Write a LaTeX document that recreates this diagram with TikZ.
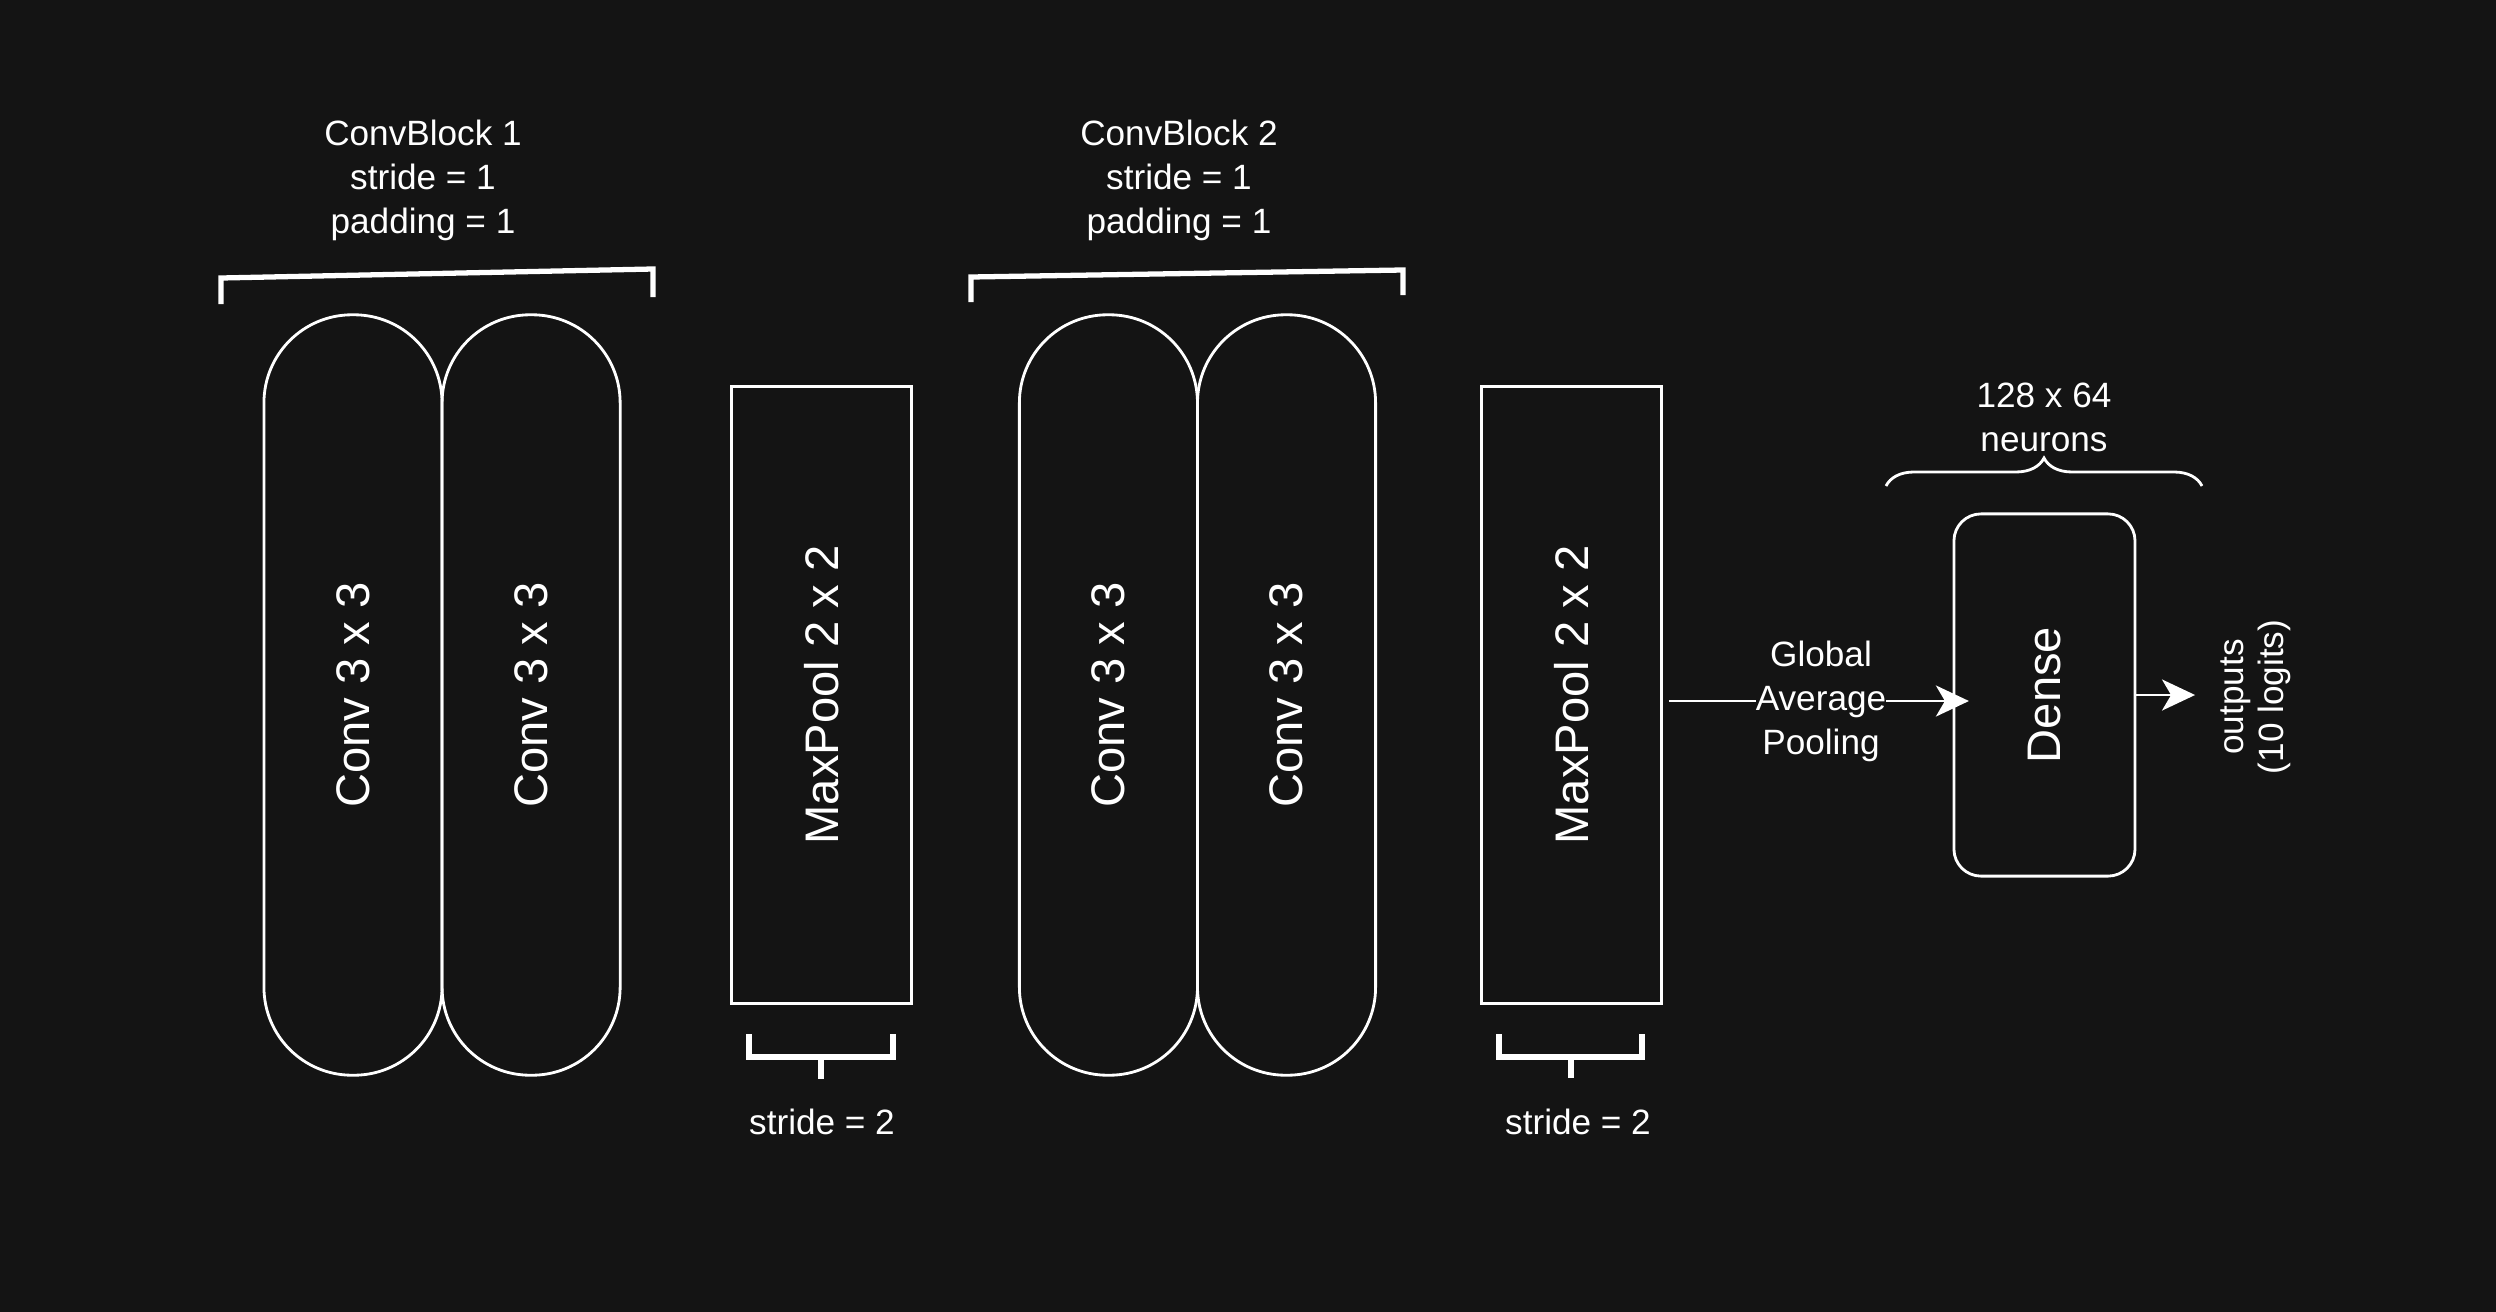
\documentclass[tikz,border=0pt]{standalone}
\usepackage{fontspec}
\setmainfont{Liberation Sans}
\usetikzlibrary{positioning,arrows.meta,decorations.pathreplacing}
\definecolor{bg}{HTML}{141414}

\begin{document}
\begin{tikzpicture}[x=0.01cm, y=-0.01cm, white, line width=0.8pt,
        conv/.style = {draw, rounded corners=0.88cm, minimum width=1.78cm, minimum height=7.6cm, outer sep=0pt, inner sep=0pt, font=\fontsize{13.4}{16}\selectfont},
        pool/.style = {draw, minimum width=1.8cm, minimum height=6.17cm, outer sep=0pt, font=\fontsize{13.4}{16}\selectfont},
        dense/.style = {draw, rounded corners=0.27cm, minimum width=1.81cm, minimum height=3.62cm, outer sep=0pt, font=\fontsize{13.4}{16}\selectfont},
        note/.style = {align=center, font=\fontsize{10}{12.5}\selectfont},
        bracket/.style = {line width=1.5pt},
        arr/.style = {-{Stealth[length=3.3mm, width=3.1mm, inset=0.9mm]}}]
    \fill[bg] (0,0) rectangle (2496,1312);

    % layers
    \node[conv] (c1) at (353,695) {\rotatebox{90}{Conv 3 x 3}};
    \node[conv] (c2) [right=0pt of c1] {\rotatebox{90}{Conv 3 x 3}};
    \node[pool] (mp1) [right=1.11cm of c2] {\rotatebox{90}{MaxPool 2 x 2}};
    \node[conv] (c3) [right=1.08cm of mp1] {\rotatebox{90}{Conv 3 x 3}};
    \node[conv] (c4) [right=0pt of c3] {\rotatebox{90}{Conv 3 x 3}};
    \node[pool] (mp2) [right=1.06cm of c4] {\rotatebox{90}{MaxPool 2 x 2}};
    \node[dense] (dense) [right=2.92cm of mp2] {\rotatebox{90}{Dense}};
    \coordinate[right=0.6cm of dense] (outtip);

    % labels
    \node[note] (cb1) at (423,180) {ConvBlock 1\\stride = 1\\padding = 1};
    \node[note] (cb2) at (1179,180) {ConvBlock 2\\stride = 1\\padding = 1};
    \node[note] (s1) at (822,1122) {stride = 2};
    \node[note] (s2) at (1578,1122) {stride = 2};
    \node[note] (neur) at (2044,417) {128 x 64\\neurons};
    \node[note, rotate=90, font=\fontsize{10}{11.4}\selectfont] (outs) at (2256,697) {outputs\\(10 logits)};

    % brackets
    \draw[bracket] (221,304) -- (221,278) -- (653,269) -- (653,297);
    \draw[bracket] (971,302) -- (971,277) -- (1403,270) -- (1403,295);
    \draw[bracket] (749,1034) -- (749,1057) -- (893,1057) -- (893,1034);
    \draw[bracket] (821,1057) -- (821,1079);
    \draw[bracket] (1499,1034) -- (1499,1057) -- (1642,1057) -- (1642,1034);
    \draw[bracket] (1571,1057) -- (1571,1078);
    \draw[decorate, decoration={brace, amplitude=0.28cm}] (1886,486) -- (2202,486);

    % arrows
    \draw[arr, shorten <=0.07cm, shorten >=-0.15cm] ([yshift=-0.06cm]mp2.east) -- node[pos=0.545, note, fill=bg, inner sep=0pt] (gap) {Global\\Average\\Pooling} ([yshift=-0.06cm]dense.west);
    \draw[arr] (dense) -- (outtip);
\end{tikzpicture}
\end{document}
